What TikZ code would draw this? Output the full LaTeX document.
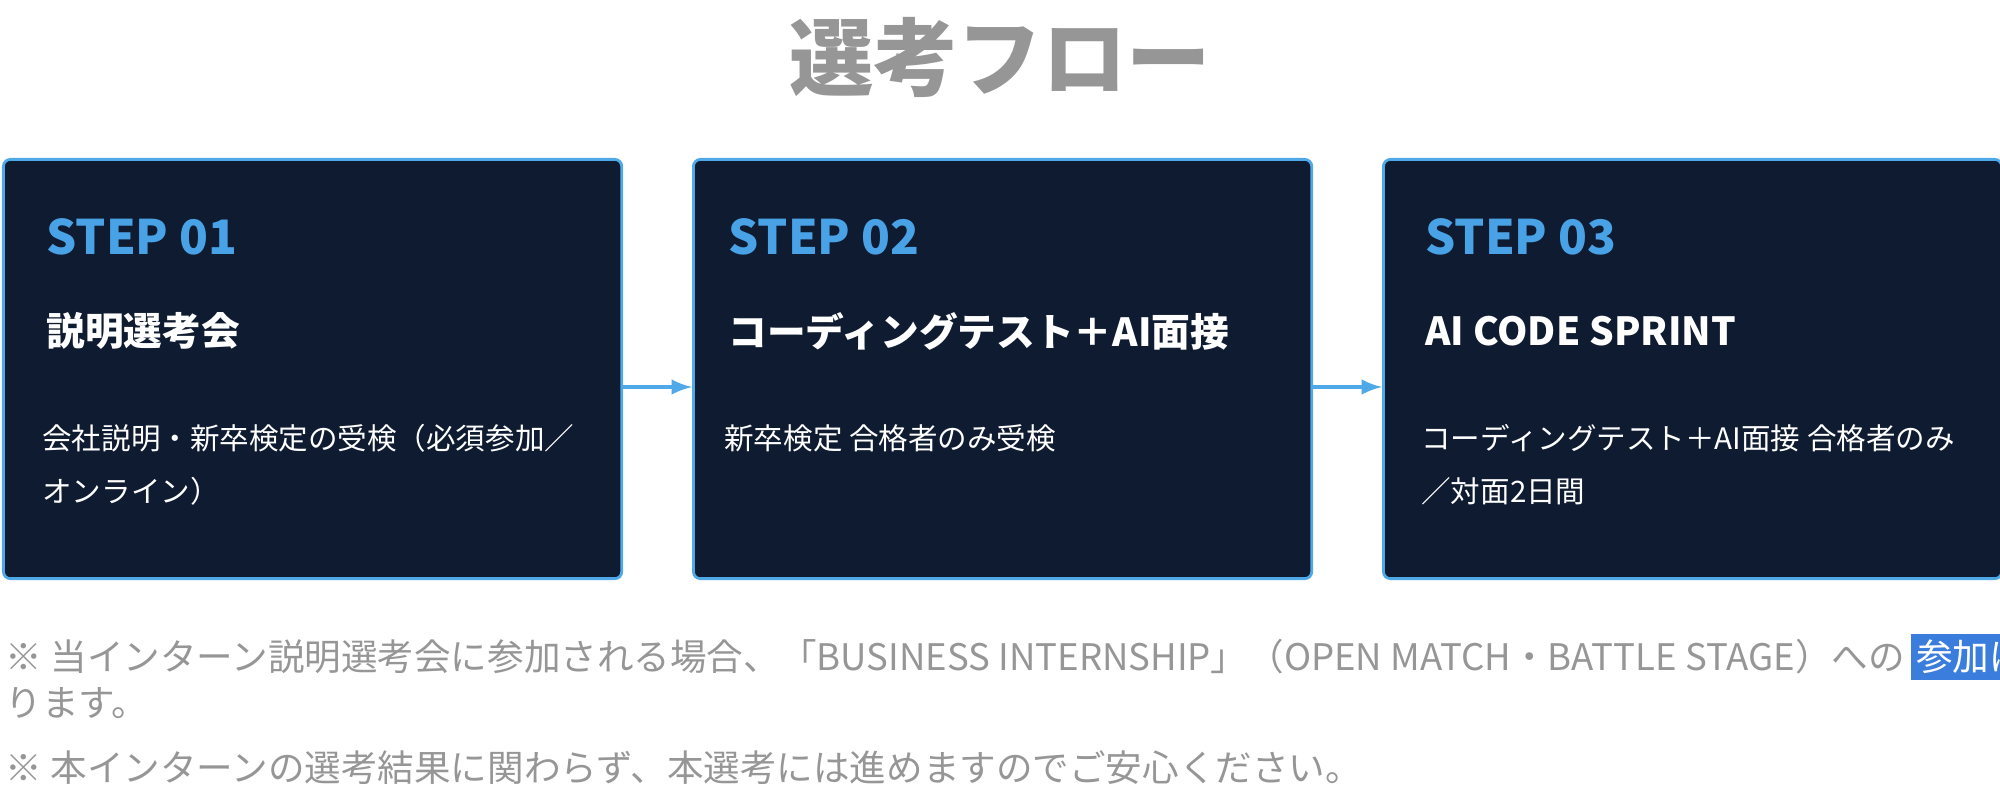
\documentclass[tikz,border=0pt]{standalone}
\usepackage{fontspec}
\setmainfont{Noto Sans CJK JP}
\usetikzlibrary{positioning}
\definecolor{navy}{HTML}{0F1B30}
\definecolor{edgeblue}{HTML}{4FA8E8}
\definecolor{stepblue}{HTML}{4AA2E6}
\definecolor{hlblue}{HTML}{3B7DDD}
\definecolor{paletext}{RGB}{150,150,150}
\begin{document}
\begin{tikzpicture}[x=0.01cm, y=-0.01cm]
    \tikzstyle{card} = [draw=edgeblue, fill=navy, rounded corners=2pt, line width=0.8pt, anchor=north west, minimum width=6.18cm, minimum height=4.19cm]
    \tikzstyle{steplabel} = [anchor=west, text=stepblue, font=\bfseries\fontsize{13.5}{15}\selectfont]
    \tikzstyle{head} = [anchor=west, text=white, font=\bfseries\fontsize{11}{13}\selectfont]
    \tikzstyle{desc} = [anchor=north west, text=white, font=\fontsize{8.4}{15}\selectfont, align=left]
    \tikzstyle{note} = [anchor=west, inner sep=0pt, text=paletext, font=\fontsize{10.4}{12}\selectfont]
    \tikzstyle{flow} = [-latex, draw=edgeblue, line width=1pt]
    \useasboundingbox (0,0) rectangle (2000,794);

    % title
    \node[text=paletext, font=\bfseries\fontsize{24}{27}\selectfont] (title) at (1000,58) {選考フロー};

    % cards
    \node[card] (card1) at (2,158) {};
    \node[card] (card2) at (692,158) {};
    \node[card] (card3) at (1382,158) {};

    \node[steplabel] (step1) at (34,237) {STEP 01};
    \node[steplabel] (step2) at (716,237) {STEP 02};
    \node[steplabel] (step3) at (1413,237) {STEP 03};

    \node[head] (head1) at (34,331) {説明選考会};
    \node[head] (head2) at (716,331) {コーディングテスト＋AI面接};
    \node[head] (head3) at (1413,331) {AI CODE SPRINT};

    \node[desc] (desc1) at (30,412) {会社説明・新卒検定の受検（必須参加／\\オンライン）};
    \node[desc] (desc2) at (712,412) {新卒検定 合格者のみ受検};
    \node[desc] (desc3) at (1409,412) {コーディングテスト＋AI面接 合格者のみ\\／対面2日間};

    % arrows
    \draw[flow] (card1.east |- 0,387) -- (card2.west |- 0,387);
    \draw[flow] (card2.east |- 0,387) -- (card3.west |- 0,387);

    % notes
    \node[note] (note1) at (5,657) {※ 当インターン説明選考会に参加される場合、「BUSINESS INTERNSHIP」（OPEN MATCH・BATTLE STAGE）への\,{\fboxsep=1.5pt\colorbox{hlblue}{\textcolor{white}{参加は不可（併願不可）}}}\,とな};
    \node[note] (note2) at (5,703) {ります。};
    \node[note] (note3) at (5,768) {※ 本インターンの選考結果に関わらず、本選考には進めますのでご安心ください。};
\end{tikzpicture}
\end{document}
